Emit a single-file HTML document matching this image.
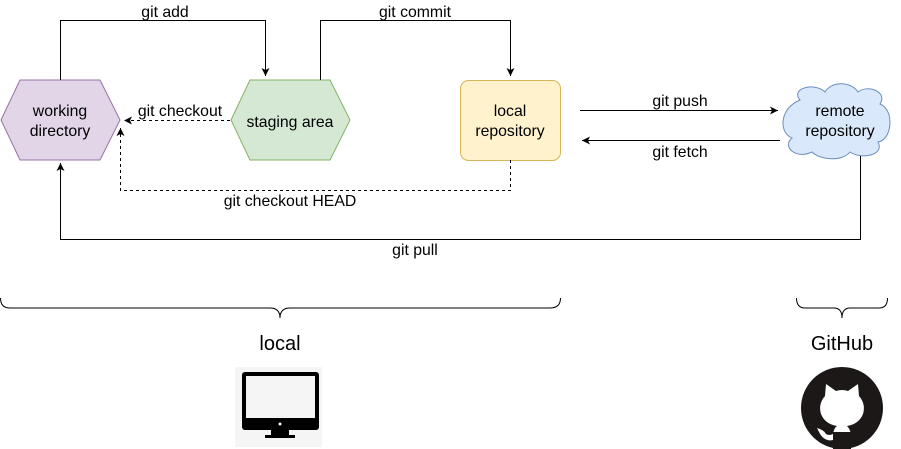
<!DOCTYPE html>
<html><head><meta charset="utf-8"><style>body{margin:0;background:#fff}svg{display:block}text{font-family:"Liberation Sans",sans-serif;font-size:15.8px;fill:#000}</style></head>
<body>
<svg width="901" height="449" viewBox="0 0 901 449" xmlns="http://www.w3.org/2000/svg">
<defs>
<marker id="a" markerWidth="10" markerHeight="10" refX="8" refY="5" orient="auto" markerUnits="userSpaceOnUse"><path d="M0,1 L8,5 L0,9 L2,5 Z" fill="#000"/></marker>
</defs>
<polygon points="1,120 20,80 100,80 120,120 100,160 20,160" fill="#e1d5e7" stroke="#9673a6"/>
<text x="60" y="116" text-anchor="middle">working</text>
<text x="60" y="136" text-anchor="middle">directory</text>
<polygon points="231,120 250,80 330,80 350,120 330,160 250,160" fill="#d5e8d4" stroke="#82b366"/>
<text x="290" y="127" text-anchor="middle">staging area</text>
<rect x="460.5" y="80.5" width="100" height="80" rx="8" fill="#fff2cc" stroke="#d6b656"/>
<text x="510" y="116" text-anchor="middle">local</text>
<text x="510" y="136" text-anchor="middle">repository</text>
<path d="M800,100 C790,88 815,82 825,92 C832,80 852,82 858,92 C868,84 888,92 880,104 C895,110 892,140 878,142 C885,155 862,160 850,152 C842,162 820,160 812,152 C795,160 782,146 792,138 C778,132 780,108 800,100 Z" fill="#dae8fc" stroke="#6c8ebf"/>
<text x="840" y="116" text-anchor="middle">remote</text>
<text x="840" y="136" text-anchor="middle">repository</text>
<g fill="none" stroke="#000" stroke-width="1">
<path d="M60.5,80 V20.5 H265.5 V76" marker-end="url(#a)"/>
<path d="M320.5,80 V20.5 H510.5 V76" marker-end="url(#a)"/>
<path d="M230,120.5 H124" stroke-dasharray="3,3" marker-end="url(#a)"/>
<path d="M510.5,160 V190.5 H120.5 V128" stroke-dasharray="3,3" marker-end="url(#a)"/>
<path d="M580,110.5 H778" marker-end="url(#a)"/>
<path d="M780,140.5 H582" marker-end="url(#a)"/>
<path d="M860.5,156 V239.5 H60.5 V163" marker-end="url(#a)"/>
<path d="M0.5,298 Q0.5,308 10,308 H270 Q280,308 280,318 Q280,308 290,308 H550 Q560.5,308 560.5,298"/>
<path d="M796.5,298 Q796.5,308 805,308 H834 Q842,308 842,318 Q842,308 850,308 H879 Q887.5,308 887.5,298"/>
</g>
<g>
<text x="165" y="17" text-anchor="middle">git add</text>
<text x="415" y="17" text-anchor="middle">git commit</text>
<rect x="133" y="102" width="92" height="18" fill="#fff"/>
<text x="180" y="116" text-anchor="middle">git checkout</text>
<rect x="220" y="192" width="140" height="16" fill="#fff"/>
<text x="290" y="206" text-anchor="middle">git checkout HEAD</text>
<text x="680" y="106" text-anchor="middle">git push</text>
<text x="680" y="157" text-anchor="middle">git fetch</text>
<rect x="383" y="241" width="64" height="16" fill="#fff"/>
<text x="415" y="255" text-anchor="middle">git pull</text>
<text x="280" y="350" text-anchor="middle" style="font-size:20px">local</text>
<text x="842" y="350" text-anchor="middle" style="font-size:20px">GitHub</text>
</g>
<rect x="235" y="367" width="87" height="80" fill="#f5f5f5"/>
<rect x="242" y="372" width="77" height="58" rx="3" fill="#000"/>
<rect x="246" y="376" width="69" height="42" fill="#f5f5f5"/>
<circle cx="280" cy="424" r="1.5" fill="#f5f5f5"/>
<path d="M271,430 H289 V435 H295 V438 H265 V435 H271 Z" fill="#000"/>
<circle cx="842" cy="408" r="41" fill="#1b1817"/>
<path d="M826,384 L836,391 Q842,389 848,391 L858,384 L859,396 Q866,404 863,414 Q859,424 847,426 Q851,430 851,436 V449 H833 V440 Q824,442 819,432 L817,428 Q824,430 826,434 Q829,436 833,434 Q834,428 837,426 Q825,424 821,414 Q818,404 825,396 Z" fill="#fff"/>
<rect x="833" y="432" width="18" height="17" fill="#1b1817"/>
</svg>
</body></html>
